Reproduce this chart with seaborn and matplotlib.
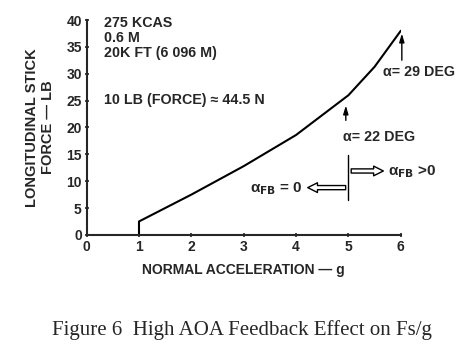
import matplotlib
matplotlib.use("Agg")
import matplotlib.pyplot as plt
import seaborn as sns
import pandas as pd

# Data
accel_g = [1.0, 1.0, 2.0, 3.0, 4.0, 5.0, 5.5, 6.0]
stick_force_lb = [0.0, 2.5, 7.5, 12.8, 18.6, 26.0, 31.3, 38.0]
x_ticks = [0, 1, 2, 3, 4, 5, 6]
y_ticks = [0, 5, 10, 15, 20, 25, 30, 35, 40]

sns.set_style("ticks")
plt.rcParams["font.family"] = ["Liberation Sans", "DejaVu Sans"]
plt.rcParams["font.weight"] = "bold"

fig = plt.figure(figsize=(4.76, 3.48), dpi=100)
ax = fig.add_axes([0.182, 0.325, 0.660, 0.6175])

df = pd.DataFrame({"g": accel_g, "F": stick_force_lb})
sns.lineplot(data=df, x="g", y="F", ax=ax, color="black", linewidth=1.5,
             sort=False, estimator=None)

ax.set_xlim(0, 6)
ax.set_ylim(0, 40)
ax.set_xticks(x_ticks)
ax.set_yticks(y_ticks)
ax.tick_params(axis="both", labelsize=10, width=1.2, length=3, direction="inout", pad=2)
for lbl in ax.get_xticklabels() + ax.get_yticklabels():
    lbl.set_fontweight("bold")
for s in ["top", "right"]:
    ax.spines[s].set_visible(False)
for s in ["left", "bottom"]:
    ax.spines[s].set_linewidth(1.5)

ax.set_xlabel("NORMAL ACCELERATION — g", fontsize=10, fontweight="bold", labelpad=7)
ax.set_ylabel("LONGITUDINAL STICK\nFORCE — LB", fontsize=10.5, fontweight="bold", labelpad=8)

tk = dict(fontsize=10.3, fontweight="bold", ha="left", va="center")
ax.text(0.33, 39.4, "275 KCAS", **tk)
ax.text(0.33, 36.6, "0.6 M", **tk)
ax.text(0.33, 33.8, "20K FT (6 096 M)", **tk)
ax.text(0.33, 25.1, "10 LB (FORCE) ≈ 44.5 N", **tk)

# alpha markers
ax.annotate("", xy=(6.02, 38.0), xytext=(6.02, 32.0), annotation_clip=False,
            arrowprops=dict(arrowstyle="-|>,head_width=0.15,head_length=0.5", color="black", lw=1.0))
ax.text(5.66, 30.3, "α= 29 DEG", **tk)
ax.annotate("", xy=(4.95, 24.6), xytext=(4.95, 20.8), annotation_clip=False,
            arrowprops=dict(arrowstyle="-|>,head_width=0.15,head_length=0.5", color="black", lw=1.0))
ax.text(4.9, 18.2, "α= 22 DEG", **tk)

# feedback boundary
ax.plot([5, 5], [6.5, 14.9], color="black", lw=1.0)
hollow = dict(arrowstyle="simple,head_width=0.7,head_length=0.7,tail_width=0.3",
              fc="white", ec="black", lw=1.0)
ax.annotate("", xy=(5.72, 11.9), xytext=(5.0, 11.9), arrowprops=hollow, annotation_clip=False)
ax.annotate("", xy=(4.17, 8.8), xytext=(5.0, 8.8), arrowprops=hollow, annotation_clip=False)
ax.text(5.76, 11.8, r"α$_{\mathbf{FB}}$ >0", fontsize=11, fontweight="bold", ha="left", va="center")
ax.text(4.12, 8.7, r"α$_{\mathbf{FB}}$ = 0", fontsize=11, fontweight="bold", ha="right", va="center")

fig.text(0.508, 0.052, "Figure 6  High AOA Feedback Effect on Fs/g", fontsize=15,
         family=["Liberation Serif", "DejaVu Serif"], fontweight="normal", ha="center", va="center")

fig.savefig("out.png", dpi=100)
